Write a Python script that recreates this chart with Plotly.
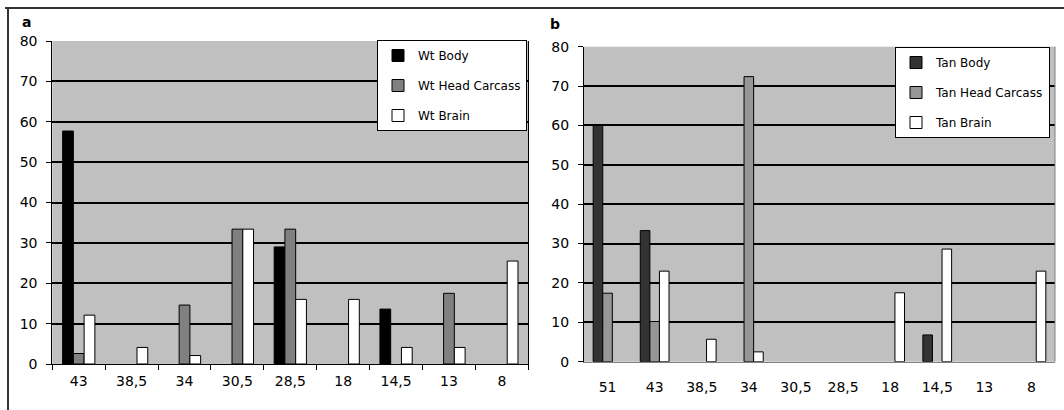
import plotly.graph_objects as go

# ---- data ----
left_categories = ["43", "38,5", "34", "30,5", "28,5", "18", "14,5", "13", "8"]
wt_body = [57.7, None, None, None, 29.0, None, 13.6, None, None]
wt_head_carcass = [2.6, None, 14.6, 33.4, 33.4, None, None, 17.5, None]
wt_brain = [12.1, 4.1, 2.1, 33.4, 16.0, 16.0, 4.1, 4.1, 25.5]

right_categories = ["51", "43", "38,5", "34", "30,5", "28,5", "18", "14,5", "13", "8"]
tan_body = [60.0, 33.3, None, None, None, None, None, 6.8, None, None]
tan_head_carcass = [17.4, 10.2, None, 72.4, None, None, None, None, None, None]
tan_brain = [None, 23.0, 5.7, 2.5, None, None, 17.5, 28.6, None, 23.0]

y_ticks = [0, 10, 20, 30, 40, 50, 60, 70, 80]
grid_vals = [10, 20, 30, 40, 50, 60, 70]

W, H = 1064, 410
FONT = "DejaVu Sans, Verdana, sans-serif"

fig = go.Figure()

def add_bar(x, y, name, color, xa, ya, legend, grp):
    fig.add_trace(go.Bar(
        x=x, y=y, name=name, xaxis=xa, yaxis=ya, legend=legend,
        legendgroup=grp,
        marker=dict(color=color, line=dict(color="black", width=1)),
    ))

add_bar(left_categories, wt_body, "Wt Body", "#000000", "x", "y", "legend", "a1")
add_bar(left_categories, wt_head_carcass, "Wt Head Carcass", "#808080", "x", "y", "legend", "a2")
add_bar(left_categories, wt_brain, "Wt Brain", "#ffffff", "x", "y", "legend", "a3")
add_bar(right_categories, tan_body, "Tan Body", "#333333", "x2", "y2", "legend2", "b1")
add_bar(right_categories, tan_head_carcass, "Tan Head Carcass", "#969696", "x2", "y2", "legend2", "b2")
add_bar(right_categories, tan_brain, "Tan Brain", "#ffffff", "x2", "y2", "legend2", "b3")

def px_x(v):
    return v / W

def px_y(v):
    return 1 - v / H

tickfont = dict(family=FONT, size=14, color="black")

yaxis_common = dict(
    range=[0, 80], tickvals=y_ticks, showgrid=False, zeroline=False,
    showline=True, linecolor="black", linewidth=1,
    ticks="outside", ticklen=5, tickcolor="black",
    tickfont=tickfont, ticklabelstandoff=6,
    minor=dict(tickvals=grid_vals, showgrid=True, gridcolor="black",
               gridwidth=1.5, ticks=""),
    fixedrange=True, automargin=False,
)

legend_common = dict(
    xanchor="left", yanchor="top",
    bgcolor="white", bordercolor="black", borderwidth=1,
    font=dict(family=FONT, size=12, color="black"),
    tracegroupgap=11, itemwidth=30,
)

fig.update_layout(
    width=W, height=H, autosize=False,
    margin=dict(l=0, r=0, t=0, b=0, pad=0),
    paper_bgcolor="white",
    plot_bgcolor="#c0c0c0",
    barmode="group",
    bargap=0.39,
    bargroupgap=0,
    showlegend=True,
    font=dict(family=FONT, size=12, color="black"),
    xaxis=dict(
        domain=[px_x(52.3), px_x(528.3)], anchor="y",
        type="category", showline=True, linecolor="black", linewidth=1,
        ticks="outside", tickson="boundaries", ticklen=5, tickcolor="black",
        tickfont=tickfont, ticklabelstandoff=4,
        showgrid=False, fixedrange=True, automargin=False,
    ),
    yaxis=dict(domain=[px_y(364), px_y(41)], anchor="x", mirror=True, **yaxis_common),
    xaxis2=dict(
        domain=[px_x(584), px_x(1055)], anchor="y2",
        type="category", showline=True, linecolor="#808080", linewidth=1,
        ticks="", tickfont=tickfont, ticklabelstandoff=12,
        showgrid=False, fixedrange=True, automargin=False,
    ),
    yaxis2=dict(domain=[px_y(361.7), px_y(46.7)], anchor="x2", **yaxis_common),
    legend=dict(x=px_x(377), y=px_y(40), **legend_common),
    legend2=dict(x=px_x(895), y=px_y(47), **legend_common),
    annotations=[
        dict(text="<b>a</b>", x=px_x(20), y=px_y(12), xref="paper", yref="paper",
             xanchor="left", yanchor="top", showarrow=False,
             font=dict(family=FONT, size=14, color="black")),
        dict(text="<b>b</b>", x=px_x(548), y=px_y(14), xref="paper", yref="paper",
             xanchor="left", yanchor="top", showarrow=False,
             font=dict(family=FONT, size=14, color="black")),
    ],
    shapes=[
        dict(type="line", xref="paper", yref="paper", x0=px_x(5), x1=1,
             y0=px_y(8), y1=px_y(8), line=dict(color="#333333", width=2)),
        dict(type="line", xref="paper", yref="paper", x0=px_x(8), x1=px_x(8),
             y0=0, y1=px_y(8), line=dict(color="#333333", width=2)),
        dict(type="line", xref="x2 domain", yref="y2 domain", x0=1, x1=1,
             y0=0, y1=1, line=dict(color="#808080", width=1)),
    ],
)

fig.write_html(
    "out.html",
    config={"displayModeBar": False},
    post_script="document.body.style.margin='0';document.body.style.padding='0';"
                "document.documentElement.style.margin='0';",
)
